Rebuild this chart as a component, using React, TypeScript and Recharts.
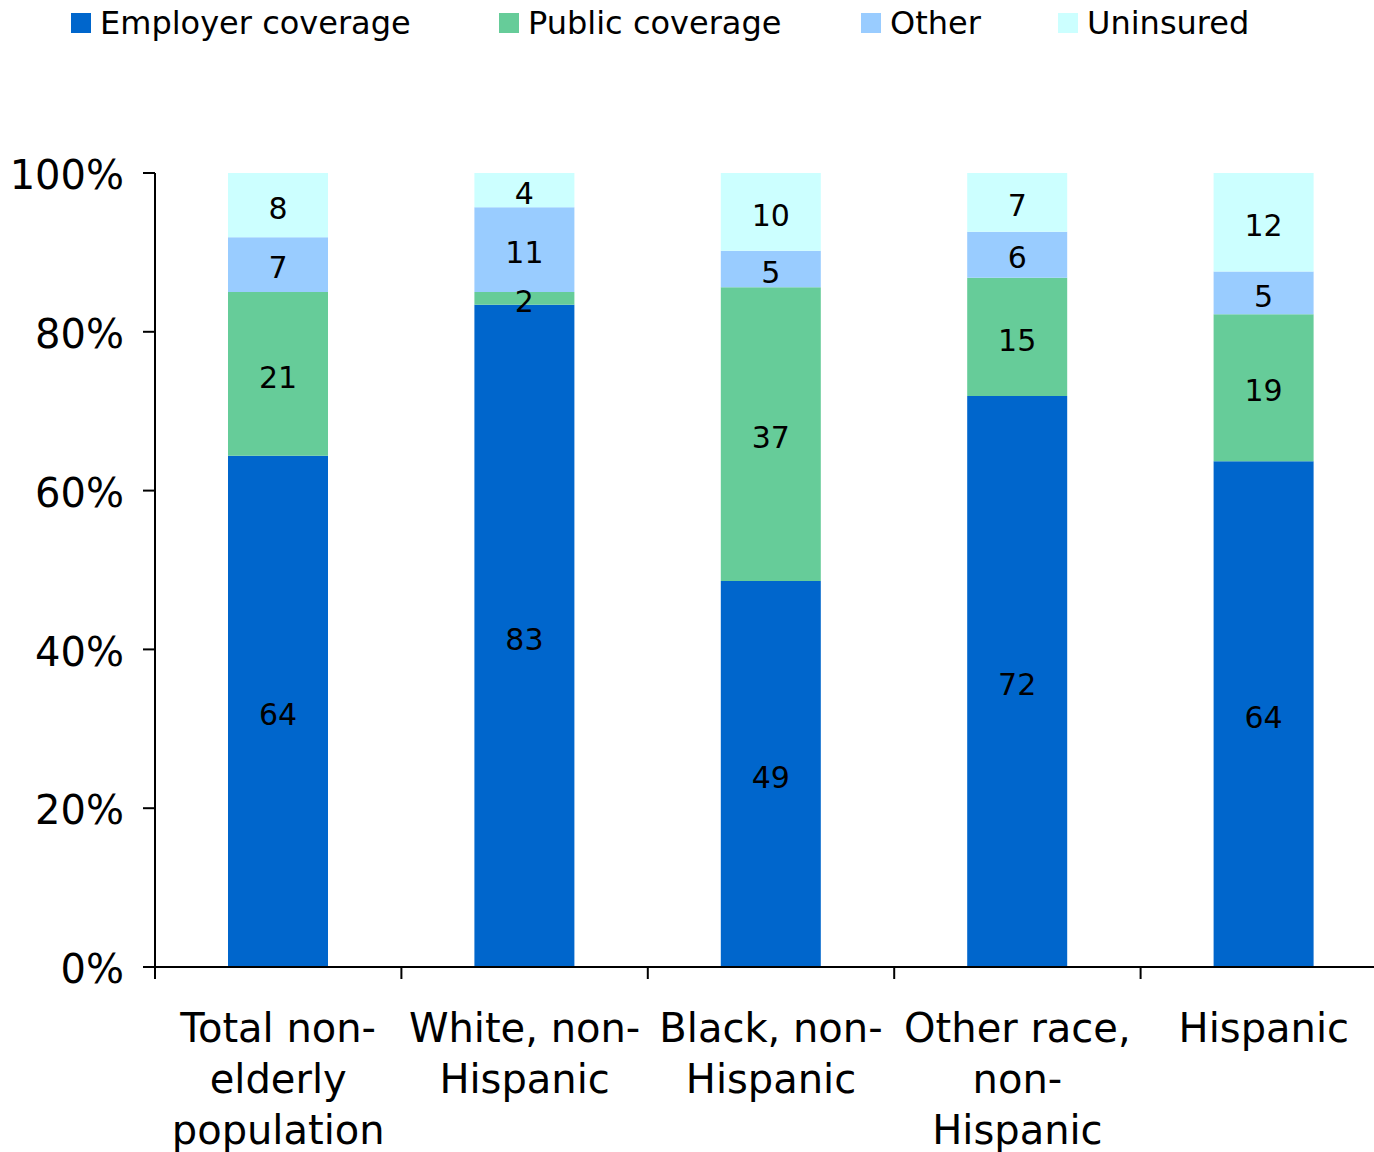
import { Bar, BarChart, LabelList, XAxis, YAxis } from "recharts";

const CATEGORIES = [
  "Total non-elderly population",
  "White, non-Hispanic",
  "Black, non-Hispanic",
  "Other race, non-Hispanic",
  "Hispanic",
];
const EMPLOYER = [64.4, 83.4, 48.6, 71.9, 63.7];
const PUBLIC = [20.6, 1.6, 37.0, 14.9, 18.5];
const OTHER = [6.9, 10.7, 4.6, 5.8, 5.4];
const UNINSURED = [8.1, 4.3, 9.8, 7.4, 12.4];
const Y_TICKS = [0, 20, 40, 60, 80, 100];

const SERIES = [
  { key: "employer", name: "Employer coverage", color: "#0066CC", legendX: 71 },
  { key: "public", name: "Public coverage", color: "#66CC99", legendX: 499 },
  { key: "other", name: "Other", color: "#99CCFF", legendX: 861 },
  { key: "uninsured", name: "Uninsured", color: "#CCFFFF", legendX: 1058 },
];

const data = CATEGORIES.map((name, i) => ({
  name,
  employer: EMPLOYER[i],
  public: PUBLIC[i],
  other: OTHER[i],
  uninsured: UNINSURED[i],
}));

const FONT = "'DejaVu Sans', Verdana, sans-serif";
const CHART_W = 1387;
const CHART_H = 1152;
const LEFT = 155;
const HALF_BAND = (CHART_W - LEFT) / CATEGORIES.length / 2;

// greedy wrap, breaking after spaces and hyphens
function wrap(label: string, max = 11): string[] {
  const tokens = label.match(/[^\s-]+-?\s*/g) ?? [label];
  const lines: string[] = [];
  let cur = "";
  for (const t of tokens) {
    if (cur && (cur + t).trim().length > max) {
      lines.push(cur.trim());
      cur = t;
    } else {
      cur += t;
    }
  }
  if (cur.trim()) lines.push(cur.trim());
  return lines;
}

function CategoryTick(props: any) {
  const { x, y, payload } = props;
  const lines = wrap(String(payload.value));
  return (
    <g>
      <line x1={x - HALF_BAND} x2={x - HALF_BAND} y1={y - 12} y2={y} stroke="#000" strokeWidth={2} />
      <text x={x} y={y + 63} textAnchor="middle" fontSize={40} fill="#000" fontFamily={FONT}>
        {lines.map((l, i) => (
          <tspan key={i} x={x} dy={i === 0 ? 0 : 51}>
            {l}
          </tspan>
        ))}
      </text>
    </g>
  );
}

export default function App() {
  return (
    <div style={{ position: "relative", width: 1374, height: CHART_H, overflow: "hidden", background: "#fff", fontFamily: FONT }}>
      <style>{"body{margin:0}"}</style>
      {SERIES.map((s) => (
        <div
          key={s.key}
          style={{ position: "absolute", left: s.legendX, top: 4, height: 38, display: "flex", alignItems: "center", fontSize: 32, whiteSpace: "nowrap", color: "#000" }}
        >
          <span style={{ width: 20, height: 20, background: s.color, marginRight: 9, display: "inline-block" }} />
          {s.name}
        </div>
      ))}
      <BarChart
        width={CHART_W}
        height={CHART_H}
        data={data}
        margin={{ top: 173, right: 0, bottom: 0, left: 0 }}
        style={{ fontFamily: FONT }}
      >
        <YAxis
          width={LEFT}
          domain={[0, 100]}
          ticks={Y_TICKS}
          tickFormatter={(v) => `${v}%`}
          tick={{ fill: "#000", fontSize: 40, dy: 2 }}
          axisLine={{ stroke: "#000", strokeWidth: 2 }}
          tickLine={{ stroke: "#000", strokeWidth: 2 }}
          tickSize={12}
          tickMargin={19}
        />
        <XAxis
          dataKey="name"
          height={185}
          interval={0}
          tick={<CategoryTick />}
          axisLine={{ stroke: "#000", strokeWidth: 2 }}
          tickLine={false}
          tickSize={12}
          tickMargin={0}
        />
        {SERIES.map((s) => (
          <Bar key={s.key} dataKey={s.key} name={s.name} stackId="a" fill={s.color} barSize={100} isAnimationActive={false}>
            <LabelList
              dataKey={s.key}
              position="center"
              formatter={(v: any) => Math.round(Number(v))}
              fill="#000"
              fontSize={30}
              dy={3}
            />
          </Bar>
        ))}
      </BarChart>
    </div>
  );
}
